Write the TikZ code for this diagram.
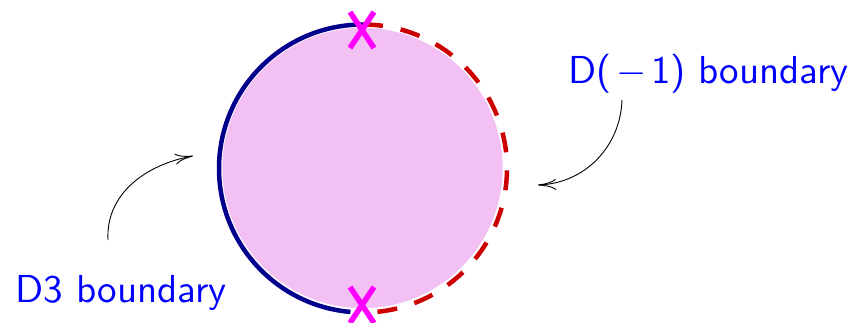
\documentclass[tikz,border=0pt]{standalone}
\usetikzlibrary{arrows.meta}
\definecolor{diskfill}{RGB}{243,192,243}
\definecolor{dthree}{RGB}{0,0,140}
\definecolor{dminus}{RGB}{204,0,0}
\definecolor{labelblue}{RGB}{0,0,255}
\definecolor{crossmag}{RGB}{255,0,255}
\tikzset{
  lbl/.style={text=labelblue, font=\sffamily, inner sep=0pt, anchor=base west, scale=3.9},
  pointer/.style={-{Computer Modern Rightarrow[length=18pt,width=11pt]}, line width=0.9pt, black},
  crossline/.style={crossmag, line width=5.5pt},
}
\begin{document}
\begin{tikzpicture}[x=1pt,y=1pt]
\useasboundingbox (0,0) rectangle (852,322);
% disk
\fill[diskfill, draw=white, line width=1.5pt] (362.5,154) circle (141);
% boundaries
\coordinate (c) at (363,153.5);
\draw[dthree, line width=4.5pt] ([shift={(90:144)}]c) arc (90:265:144);
\draw[dminus, line width=4.5pt, dash pattern=on 20pt off 18pt] ([shift={(90:144)}]c) arc (90:-90:144);
% crosses
\coordinate (xt) at (362,292);
\coordinate (xb) at (362,17);
\draw[crossline] ([shift={(-12,-18)}]xt) -- ([shift={(12,18)}]xt);
\draw[crossline] ([shift={(-12,18)}]xt) -- ([shift={(12,-18)}]xt);
\draw[crossline] ([shift={(-12,-18)}]xb) -- ([shift={(12,18)}]xb);
\draw[crossline] ([shift={(-12,18)}]xb) -- ([shift={(12,-18)}]xb);
% labels
\node[lbl] (lm) at (568,239) {D(\kern0.12em$-$\kern0.1em1) boundary};
\node[lbl] (l3) at (15,20) {D3 boundary};
% pointers
\coordinate (am) at (622,222);
\coordinate (tm) at (538,137);
\coordinate (a3) at (108,82);
\coordinate (t3) at (193,166);
\draw[pointer] (am) to[out=-92,in=2] (tm);
\draw[pointer] (a3) to[out=93,in=190] (t3);
\end{tikzpicture}
\end{document}
